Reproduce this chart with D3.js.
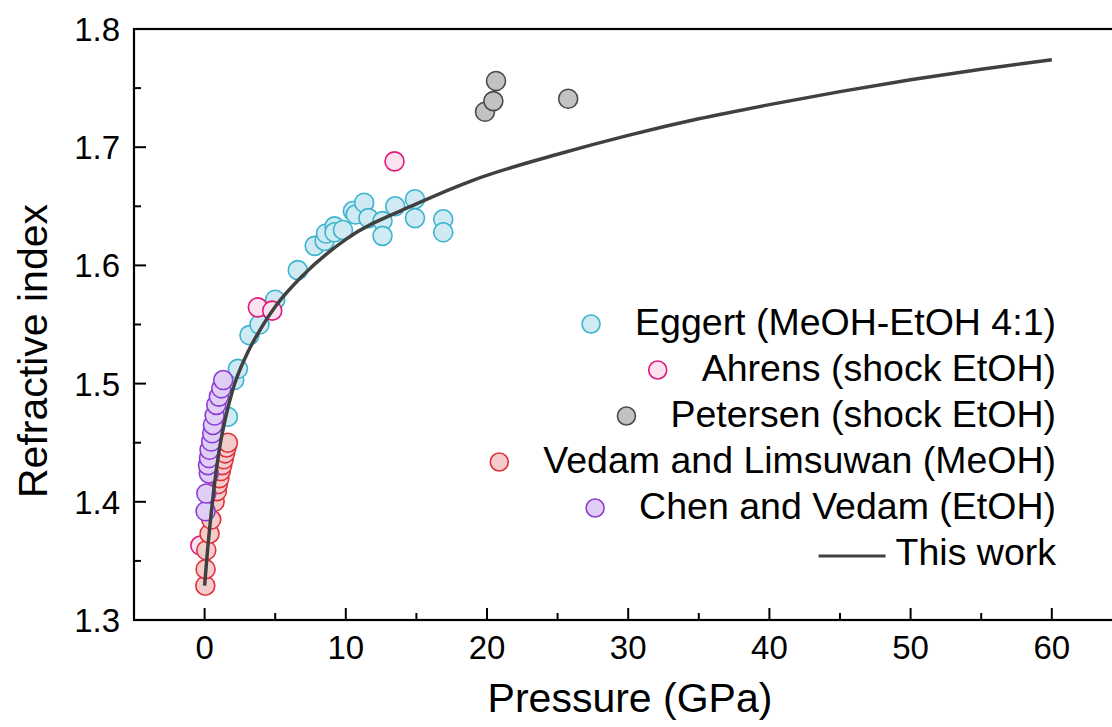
<!DOCTYPE html>
<html>
<head>
<meta charset="utf-8">
<script src="https://cdn.jsdelivr.net/npm/d3@7"></script>
<style>
  body { margin: 0; background: #fff; }
  text { font-family: Arial, "Liberation Sans", sans-serif; fill: #000; }
</style>
</head>
<body>
<div id="chart"></div>
<script>
var w = 1112;
var h = 727;

// Eggert (MeOH-EtOH 4:1)
var eggertP = [1.65, 2.1, 2.36, 3.18, 3.89, 5.0, 6.6, 7.8, 8.5, 8.6, 9.2, 9.2, 9.8, 10.5, 10.7, 11.3, 11.6, 12.6, 12.6, 13.5, 14.9, 14.9, 16.9, 16.9];
var eggertN = [1.472, 1.503, 1.5125, 1.541, 1.550, 1.571, 1.596, 1.6165, 1.6207, 1.627, 1.633, 1.628, 1.630, 1.646, 1.643, 1.653, 1.640, 1.6375, 1.625, 1.650, 1.656, 1.640, 1.639, 1.628];
// Ahrens (shock EtOH)
var ahrensP = [-0.3, 3.77, 4.79, 13.45];
var ahrensN = [1.363, 1.5645, 1.5617, 1.688];
// Petersen (shock EtOH)
var petersenP = [19.86, 20.45, 20.64, 25.75];
var petersenN = [1.730, 1.739, 1.756, 1.741];
// Vedam and Limsuwan (MeOH)
var vedamP = [0.05, 0.07, 0.12, 0.35, 0.47, 0.71, 0.87, 0.95, 1.05, 1.15, 1.25, 1.35, 1.45, 1.55, 1.65];
var vedamN = [1.329, 1.343, 1.359, 1.373, 1.385, 1.400, 1.409, 1.415, 1.420, 1.426, 1.431, 1.436, 1.441, 1.446, 1.450];
// Chen and Vedam (EtOH)
var chenP = [0.07, 0.12, 0.3, 0.24, 0.31, 0.35, 0.47, 0.54, 0.59, 0.71, 0.83, 1.01, 1.18, 1.32];
var chenN = [1.392, 1.407, 1.424, 1.431, 1.437, 1.444, 1.451, 1.458, 1.465, 1.473, 1.482, 1.489, 1.496, 1.503];
// This work
var fitP = [0, 0.2, 0.43, 0.66, 1, 1.5, 2, 3, 4, 5, 7, 10, 15, 19, 25, 30, 35, 40, 45, 50, 55, 60];
var fitN = [1.329, 1.358, 1.386, 1.411, 1.441, 1.472, 1.495, 1.525, 1.547, 1.565, 1.592, 1.622, 1.652, 1.672, 1.694, 1.710, 1.724, 1.736, 1.747, 1.757, 1.766, 1.774];

var xTicks = [0, 10, 20, 30, 40, 50, 60];
var yTicks = [1.3, 1.4, 1.5, 1.6, 1.7, 1.8];

var series = [
  {name: "Eggert (MeOH-EtOH 4:1)", p: eggertP, n: eggertN, fill: "#cfeaf3", stroke: "#3cb4cf"},
  {name: "Ahrens (shock EtOH)", p: ahrensP, n: ahrensN, fill: "#fbe2ef", stroke: "#e0187c"},
  {name: "Petersen (shock EtOH)", p: petersenP, n: petersenN, fill: "#c2c2c2", stroke: "#4a4a4a"},
  {name: "Vedam and Limsuwan (MeOH)", p: vedamP, n: vedamN, fill: "#f5cccc", stroke: "#e0303a"},
  {name: "Chen and Vedam (EtOH)", p: chenP, n: chenN, fill: "#e0cef5", stroke: "#8a3dd6"}
];

var plotLeft = 134, plotTop = 29, plotBottom = 620;

var x = d3.scaleLinear().domain([-5, 65]).range([plotLeft, plotLeft + 70 * 14.12]);
var y = d3.scaleLinear().domain([1.3, 1.8]).range([plotBottom, plotTop]);

var svg = d3.select("#chart")
            .append("svg")
            .attr("width", w)
            .attr("height", h);

// frame (right side falls outside the picture)
svg.append("rect")
   .attr("x", x(-5))
   .attr("y", y(1.8))
   .attr("width", x(65) - x(-5))
   .attr("height", y(1.3) - y(1.8))
   .attr("fill", "none")
   .attr("stroke", "#000")
   .attr("stroke-width", 2.2);

// ticks, drawn inward
var xMinor = d3.range(5, 65, 10);
var yMinor = [1.35, 1.45, 1.55, 1.65, 1.75];

svg.selectAll("line.xt")
   .data(xTicks.concat(xMinor))
   .enter()
   .append("line")
   .attr("x1", function(d) { return x(d); })
   .attr("x2", function(d) { return x(d); })
   .attr("y1", plotBottom)
   .attr("y2", function(d) { return plotBottom - (d % 10 === 0 ? 12 : 7); })
   .attr("stroke", "#000")
   .attr("stroke-width", 2);

svg.selectAll("line.yt")
   .data(yTicks.concat(yMinor))
   .enter()
   .append("line")
   .attr("y1", function(d) { return y(d); })
   .attr("y2", function(d) { return y(d); })
   .attr("x1", plotLeft)
   .attr("x2", function(d) { return plotLeft + (yTicks.indexOf(d) >= 0 ? 12 : 7); })
   .attr("stroke", "#000")
   .attr("stroke-width", 2);

svg.selectAll("text.xl")
   .data(xTicks)
   .enter()
   .append("text")
   .attr("x", function(d) { return x(d); })
   .attr("y", plotBottom + 39)
   .attr("text-anchor", "middle")
   .attr("font-size", 33)
   .text(function(d) { return d; });

svg.selectAll("text.yl")
   .data(yTicks)
   .enter()
   .append("text")
   .attr("x", plotLeft - 14)
   .attr("y", function(d) { return y(d) + 12; })
   .attr("text-anchor", "end")
   .attr("font-size", 33)
   .text(function(d) { return d3.format(".1f")(d); });

svg.append("text")
   .attr("x", 630)
   .attr("y", 712)
   .attr("text-anchor", "middle")
   .attr("font-size", 41)
   .text("Pressure (GPa)");

svg.append("text")
   .attr("transform", "translate(47,351) rotate(-90)")
   .attr("text-anchor", "middle")
   .attr("font-size", 41)
   .text("Refractive index");

// data points
series.forEach(function(s) {
  svg.append("g")
     .selectAll("circle")
     .data(d3.range(s.p.length))
     .enter()
     .append("circle")
     .attr("cx", function(i) { return x(s.p[i]); })
     .attr("cy", function(i) { return y(s.n[i]); })
     .attr("r", 9.5)
     .attr("fill", s.fill)
     .attr("stroke", s.stroke)
     .attr("stroke-width", 1.6);
});

var line = d3.line()
             .x(function(i) { return x(fitP[i]); })
             .y(function(i) { return y(fitN[i]); })
             .curve(d3.curveMonotoneX);

svg.append("path")
   .attr("d", line(d3.range(fitP.length)))
   .attr("fill", "none")
   .attr("stroke", "#404040")
   .attr("stroke-width", 3.5);

// legend, right aligned
var legendRight = 1056;
var rowY = [335, 381, 427, 473, 519];

series.forEach(function(s, i) {
  var t = svg.append("text")
     .attr("x", legendRight)
     .attr("y", rowY[i])
     .attr("text-anchor", "end")
     .attr("font-size", 37.5)
     .text(s.name);
  var tw = t.node().getComputedTextLength();
  svg.append("circle")
     .attr("cx", legendRight - tw - 44)
     .attr("cy", rowY[i] - 11)
     .attr("r", 9)
     .attr("fill", s.fill)
     .attr("stroke", s.stroke)
     .attr("stroke-width", 1.6);
});

var lw = svg.append("text")
   .attr("x", legendRight)
   .attr("y", 565)
   .attr("text-anchor", "end")
   .attr("font-size", 37.5)
   .text("This work");
var lwLen = lw.node().getComputedTextLength();
svg.append("line")
   .attr("x1", legendRight - lwLen - 10 - 67)
   .attr("x2", legendRight - lwLen - 10)
   .attr("y1", 556)
   .attr("y2", 556)
   .attr("stroke", "#404040")
   .attr("stroke-width", 3);
</script>
</body>
</html>
